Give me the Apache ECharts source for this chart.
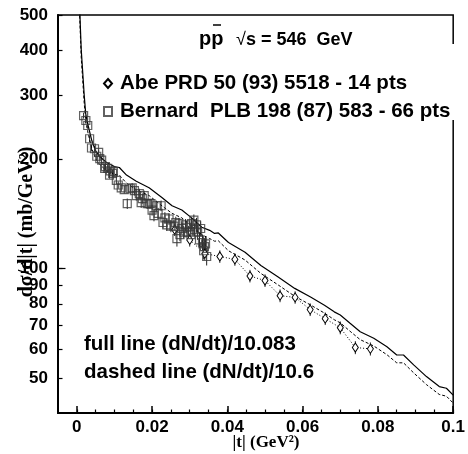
<!DOCTYPE html>
<html><head><meta charset="utf-8">
<script src="https://cdn.jsdelivr.net/npm/echarts@6/dist/echarts.min.js"></script>
<style>html,body{margin:0;padding:0;background:#fff}#c{width:468px;height:454px}</style>
</head><body><div id="c"></div>
<script>
// tick values
const xTicks = [0, 0.02, 0.04, 0.06, 0.08, 0.1];
const xMinorTicks = [0, 0.005, 0.01, 0.015, 0.02, 0.025, 0.03, 0.035, 0.04, 0.045, 0.05, 0.055, 0.06, 0.065, 0.07, 0.075, 0.08, 0.085, 0.09, 0.095, 0.1];
const yTicks = [50, 60, 70, 80, 90, 100, 200, 300, 400, 500];
const yMajorTicks = [100];

// Bernard PLB 198 (87) 583 - 66 pts
const bernT = [0.0018,0.0024,0.0029,0.0034,0.0039,0.0047,0.0053,0.0058,0.0061,0.0066,
  0.0074,0.0076,0.0082,0.0087,0.0089,0.0095,0.0097,0.0105,0.0110,0.0118,
  0.0126,0.0134,0.0142,0.0147,0.0153,0.0158,0.0166,0.0171,0.0174,0.0179,
  0.0187,0.0192,0.0197,0.0200,0.0205,0.0211,0.0216,0.0224,0.0229,0.0234,
  0.0239,0.0245,0.0250,0.0258,0.0263,0.0266,0.0271,0.0274,0.0279,0.0284,
  0.0289,0.0292,0.0297,0.0303,0.0305,0.0311,0.0313,0.0318,0.0321,0.0326,
  0.0329,0.0334,0.0337,0.0339,0.0342,0.0345];
const bernV = [264,256,248,228,215,214,204,209,201,199,
  189,191,189,181,186,183,185,175,170,167,
  165,151,166,167,164,159,161,152,156,159,
  151,151,151,145,140,149,142,149,134,138,
  132,137,131,131,134,121,133,124,129,126,
  132,130,126,124,133,136,128,132,126,120,
  129,118,112,115,117,108];
const bernErr = [5,5,5,5,4,4,4,4,4,4,
  4,4,4,4,4,4,4,4,4,4,
  4,5,5,5,5,5,5,5,5,5,
  5,5,5,5,5,5,5,5,5,5,
  5,5,5,5,5,6,5,5,5,5,
  5,5,5,6,5,5,5,6,6,6,
  6,6,6,6,6,6];

// Abe PRD 50 (93) 5518 - 14 pts
const abeT = [0.026,0.030,0.034,0.038,0.042,0.046,0.050,0.054,0.058,0.062,0.066,0.070,0.074,0.078];
const abeV = [128,120,110,108,106,95.4,92.7,84.2,83.3,77.1,72.8,68.7,60.6,60.1];
const abeErr = [5,5,4.5,4.3,4.2,3.8,3.7,3.4,3.3,3.1,2.9,2.8,2.5,2.5];

// model curves
const curveT = [0.0007,0.00118,0.00158,0.00197,0.00237,0.003,0.004,0.005,0.006,0.0079,
  0.01,0.0113,0.0132,0.0158,0.0192,0.0226,0.0253,0.0279,0.0305,0.0332,
  0.0353,0.0366,0.0376,0.0403,0.0447,0.0489,0.0534,0.0579,0.0621,0.0658,
  0.0684,0.07,0.0726,0.0753,0.0789,0.0824,0.085,0.0868,0.0895,0.0929,
  0.0963,0.0982,0.1];
const fullV = [540,400,346,300,267,248,225,211,204,196,
  191,190,181,174,167,157,149,145,138,130,
  127.5,125,125.4,118,111,102,94.9,88.2,83.5,79.3,
  76,74.5,70.7,67,64.3,60.9,57.8,57.8,54.3,50.4,
  47.3,46.8,44.8];
const dashV = [514,380,329,285,254,236,214,201,194,186,
  182,181,172,165,159,149,142,138,131,124,
  121,119,119.3,112,105.6,97,90.3,83.9,79.4,75.4,
  72.3,70.9,67.2,63.7,61.2,57.9,55,55,51.6,47.9,
  45,44.5,42.6];

const abeName = 'Abe PRD 50 (93) 5518 - 14 pts';
const bernName = 'Bernard  PLB 198 (87) 583 - 66 pts';

const zip = (a, b) => a.map((v, i) => [v, b[i]]);
const errData = (t, v, e) => t.map((x, i) => [x, v[i] - e[i], v[i] + e[i]]);

const SANS = '"Liberation Sans", Arial, sans-serif';
const SERIF = '"Liberation Serif", "Times New Roman", serif';

function errRender(params, api) {
  const p1 = api.coord([api.value(0), api.value(1)]);
  const p2 = api.coord([api.value(0), api.value(2)]);
  return {type: 'line', shape: {x1: p1[0], y1: p1[1], x2: p2[0], y2: p2[1]},
    style: {stroke: '#222', lineWidth: 1}};
}

const chart = echarts.init(document.getElementById('c'), null, {renderer: 'canvas'});
const xFmt = v => v === 0 ? '0' : String(parseFloat(v.toFixed(3)));
const lbl = {color: '#000', fontFamily: SANS, fontWeight: 'bold', fontSize: 17};

chart.setOption({
  animation: false,
  backgroundColor: '#fff',
  grid: {left: 58, right: 11, top: 15, bottom: 41, show: true, borderColor: '#000', borderWidth: 1.5, backgroundColor: 'transparent'},
  xAxis: [
    {type: 'value', min: -0.005, max: 0.1,
      axisLine: {show: true, onZero: false, lineStyle: {color: '#000', width: 2}},
      splitLine: {show: false},
      axisTick: {show: true, inside: true, length: 7, customValues: xTicks, lineStyle: {color: '#000', width: 1.5}},
      axisLabel: Object.assign({customValues: xTicks, formatter: xFmt, margin: 6}, lbl)},
    {type: 'value', min: -0.005, max: 0.1, position: 'bottom',
      axisLine: {show: false, onZero: false}, splitLine: {show: false},
      axisTick: {show: true, inside: true, length: 3.5, customValues: xMinorTicks, lineStyle: {color: '#000', width: 1.2}},
      axisLabel: {show: false}}
  ],
  yAxis: [
    {type: 'log', logBase: 10, min: 40, max: 500,
      axisLine: {show: true, onZero: false, lineStyle: {color: '#000', width: 2}},
      splitLine: {show: false}, minorTick: {show: false},
      axisTick: {show: true, inside: true, length: 4.5, customValues: yTicks, lineStyle: {color: '#000', width: 1.2}},
      axisLabel: Object.assign({customValues: yTicks, formatter: v => String(Math.round(v)), margin: 10}, lbl)},
    {type: 'log', logBase: 10, min: 40, max: 500, position: 'left',
      axisLine: {show: false, onZero: false}, splitLine: {show: false},
      axisTick: {show: true, inside: true, length: 7.5, customValues: yMajorTicks, lineStyle: {color: '#000', width: 1.2}},
      axisLabel: {show: false}}
  ],
  legend: {
    orient: 'vertical', left: 103, top: 73, itemGap: 7, itemWidth: 8, itemHeight: 9, padding: 0, z: 20,
    data: [{name: abeName, icon: 'diamond'}, {name: bernName, icon: 'rect'}],
    textStyle: {fontFamily: SANS, fontWeight: 'bold', fontSize: 20.5, color: '#000', padding: [0, 0, 0, 3]}
  },
  series: [
    {name: 'full line', type: 'line', data: zip(curveT, fullV), symbol: 'none', z: 3,
      lineStyle: {color: '#000', width: 1.2}},
    {name: 'dashed line', type: 'line', data: zip(curveT, dashV), symbol: 'none', z: 3,
      lineStyle: {color: '#000', width: 1, type: [3, 2]}},
    {name: abeName, type: 'line', data: zip(abeT, abeV), symbol: 'diamond', symbolSize: [6, 9], z: 4,
      itemStyle: {color: '#fff', borderColor: '#000', borderWidth: 1},
      lineStyle: {color: '#000', width: 1, type: [1, 2]}},
    {name: 'abeErr', type: 'custom', data: errData(abeT, abeV, abeErr), renderItem: errRender, z: 3},
    {name: bernName, type: 'scatter', data: zip(bernT, bernV), symbol: 'rect', symbolSize: 8, z: 4,
      itemStyle: {color: 'rgba(0,0,0,0)', borderColor: '#3a3a3a', borderWidth: 1.2}},
    {name: 'bernErr', type: 'custom', data: errData(bernT, bernV, bernErr), renderItem: errRender, z: 3}
  ],
  graphic: [
    {type: 'rect', silent: true, z: 5, shape: {x: 100, y: 44, width: 366, height: 76}, style: {fill: '#fff'}},
    {type: 'text', z: 10, x: 199, y: 39, style: {text: 'pp', fontFamily: SANS, fontWeight: 'bold', fontSize: 20, fill: '#000', verticalAlign: 'middle'}},
    {type: 'line', z: 10, shape: {x1: 213, y1: 25, x2: 221, y2: 25}, style: {stroke: '#000', lineWidth: 1.5}},
    {type: 'text', z: 10, x: 236, y: 40, style: {text: '√', fontFamily: SANS, fontWeight: 'normal', fontSize: 18, fill: '#000', verticalAlign: 'middle'}},
    {type: 'text', z: 10, x: 246, y: 40, style: {text: 's = 546  GeV', fontFamily: SANS, fontWeight: 'bold', fontSize: 18, fill: '#000', verticalAlign: 'middle'}},
    {type: 'text', z: 10, x: 84, y: 344, style: {text: 'full line (dN/dt)/10.083', fontFamily: SANS, fontWeight: 'bold', fontSize: 20.5, fill: '#000', verticalAlign: 'middle'}},
    {type: 'text', z: 10, x: 84, y: 372, style: {text: 'dashed line (dN/dt)/10.6', fontFamily: SANS, fontWeight: 'bold', fontSize: 20.5, fill: '#000', verticalAlign: 'middle'}},
    {type: 'text', z: 10, x: 27, y: 222, rotation: Math.PI / 2, style: {text: 'dσ/d|t| (mb/GeV²)', fontFamily: SERIF, fontWeight: 'bold', fontSize: 20, fill: '#000', align: 'center', verticalAlign: 'middle'}},
    {type: 'text', z: 10, x: 266, y: 443, style: {text: '|t| (GeV²)', fontFamily: SERIF, fontWeight: 'bold', fontSize: 17, fill: '#000', align: 'center', verticalAlign: 'middle'}}
  ]
});
</script>
</body></html>
